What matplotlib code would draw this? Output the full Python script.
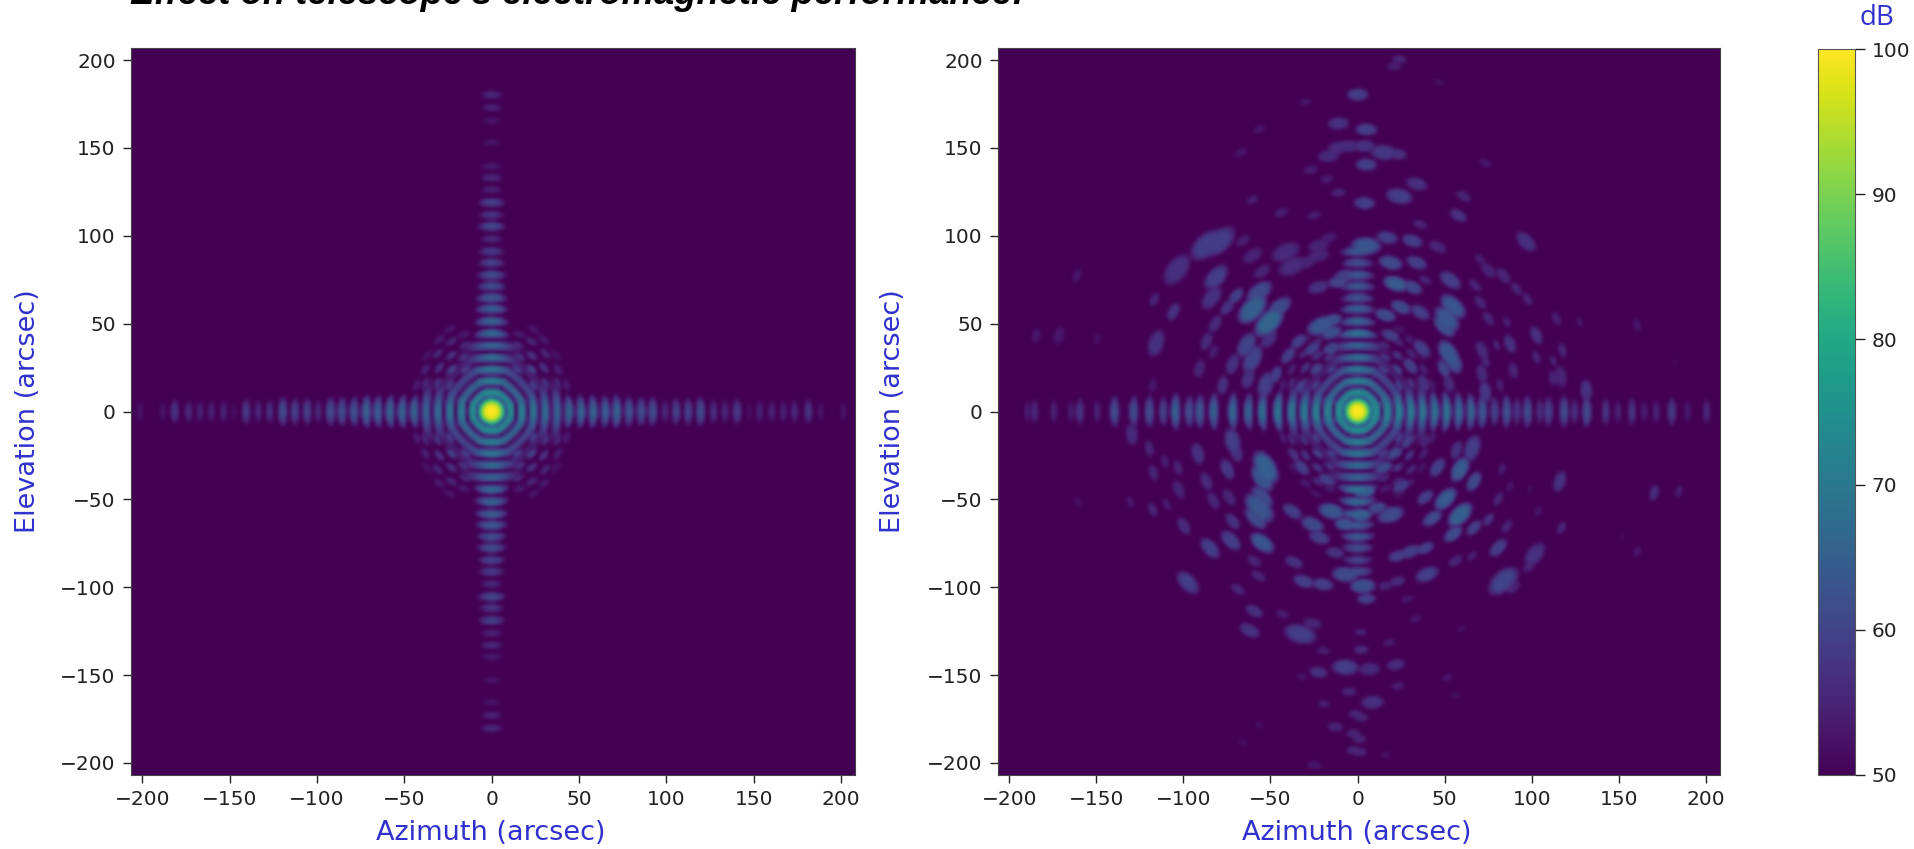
"""Beam pattern of the telescope, ideal (left) and with surface errors (right)."""
import numpy as np
import matplotlib
matplotlib.use('Agg')
import matplotlib.pyplot as plt

W, H = 1914, 849
BLUE = '#3030cc'
FLOOR = 50.0

ticks = [-200, -150, -100, -50, 0, 50, 100, 150, 200]
cbar_ticks = [50, 60, 70, 80, 90, 100]

# main lobe and the rings (arcsec, dB)
peak_db = 100
ring_r = [10.8, 17.4, 24.0, 30.8, 37.6]
ring_arm_db = [75, 72, 70, 68, 66]
ring_diag_db = [73, 66, 60, 54, 50]

# side lobes along the arms of the ideal pattern
arm_h_r = [44.5, 51.4, 58.4, 65.4, 72, 79, 86, 92.6, 99.6, 106, 113, 120, 127.5, 134,
           141, 148, 154, 161, 167.5, 174, 182, 189, 202]
arm_h_db = [66, 66, 66, 65, 66, 63, 62, 62, 56, 60, 60, 62, 57, 56,
            59, 52, 55, 55, 55, 56, 58, 53, 53]
arm_v_r = [44.6, 51.6, 58.7, 65, 71.6, 78, 85, 91.5, 98.5, 105.8, 112.3, 119.4, 126.7,
           133.5, 140, 153.6, 166, 173.5, 181]
arm_v_db = [67, 66, 65, 64, 62, 62, 60, 59, 56, 61, 58, 60, 55,
            56, 54, 53, 53, 55, 56]

# broken ring pieces in one quadrant, mirrored to the other three
dash_az = [24, 31, 38, 43, 15, 23, 30, 38, 16, 23, 31, 37, 15, 23, 30, 16, 24]
dash_el = [15, 16, 16, 15, 24, 24, 25, 24, 31, 32, 33, 32, 38, 40, 41, 44, 47]
dash_db = [60, 58, 56, 54, 60, 61, 58, 55, 58, 58, 56, 53, 56, 56, 54, 54, 53]

# arms of the pattern with surface errors
err_h_az = [10.4, 17.2, 24, 30.8, 37.6, 44.5, 51.4, 58.4, 65.4, 72, 79, 86, 92, 98, 105, 110,
            119, 125, 132, 143, 150, 158, 165, 172, 181, 190, 201,
            -10.4, -17.2, -24, -30.8, -38, -46, -55, -63, -72, -83, -91, -97, -105, -112,
            -120, -129, -140, -150, -160, -165, -175, -186, -190]
err_h_db = [75, 73, 72, 71, 70, 69, 69, 67, 66, 64, 60, 63, 58, 62, 57, 60,
            62, 57, 62, 58, 55, 58, 54, 55, 59, 54, 56,
            75, 73, 72, 71, 70, 70, 68, 66, 67, 66, 64, 62, 66, 60,
            62, 62, 62, 55, 58, 54, 55, 56, 54]
err_v_el = [44.6, 51.6, 58.7, 65, 71.6, 78, 85, 91.5,
            -44.6, -51.6, -58.7, -65, -71.6, -78, -85, -91.5]
err_v_db = [69, 66, 65, 63, 64, 64, 62, 64,
            69, 67, 66, 64, 64, 62, 60, 62]

# scattered lobes, upper left
tl_az = [-87, -80, -104, -81.5, -66, -60.5, -55, -41.4, -37.6, -30, -22.5, -22.5, -16.6,
         -56.7, -60.5, -51, -45, -70, -84, -75, -106, -117, -116, -172, -185, -161.6, -150,
         -82, -87, -83, -64, -60.5, -72, -91, -77.7, -63, -53, -34, -40, -47, -51,
         -21, -15, -15, -11, -22.5, -7, -16.6, -11, -5, -11, 0, -27, -17.6,
         -60.5, -67, -56.7, -30, -44, -25, -11, -118, -26, -15, -24, -33]
tl_el = [95, 97, 81, 76.7, 97.5, 89, 80, 91, 83, 85, 94.7, 89, 99.4,
         68, 58.6, 51, 59.6, 66, 65, 59.6, 57, 64, 39, 43.5, 43.5, 77.6, 41.5,
         50, 40, 34, 38, 30, 27, 24.5, 15, 19, 15, 40, 32, 21, 41.5,
         49, 52, 45, 74, 71, 77.6, 146, 150.7, 151.6, 164.5, 181, 138, 132.6,
         121, 148, 161, 177, 113.6, 112, 125, 15, 36, 36, 24.5, 14]
tl_db = [59, 59, 57, 59, 54, 55, 55, 56, 56, 55, 55, 55, 54,
         61, 65, 66, 61, 59, 57, 57, 57, 55, 57, 53, 53, 53, 52,
         56, 56, 54, 60, 60, 57, 55, 57, 57, 59, 59, 59, 59, 57,
         63, 62, 62, 60, 57, 59, 56, 56, 56, 57, 59, 54, 54,
         54, 53, 53, 53, 54, 54, 55, 53, 59, 60, 59, 59]
tl_size = [2.8, 2.8, 2.6, 2.2, 1.2, 1.6, 1.4, 2.2, 2.2, 1.6, 1.6, 1.6, 1.2,
           2.2, 2.6, 2.6, 2, 1.4, 2, 1.4, 1.4, 1.1, 2, 1.4, 1.1, 1.1, 0.9,
           1.4, 1.4, 1.1, 2, 2.2, 1.6, 1.4, 1.4, 1.6, 2, 1.4, 1.4, 1.4, 1.6,
           2.2, 1.6, 1.6, 1.6, 1.6, 1.6, 1.6, 1.6, 1.6, 1.6, 1.6, 1.1, 1,
           1, 1, 0.9, 0.9, 1.1, 1, 1.1, 1.1, 1.4, 1.4, 1.1, 1.1]

# upper right
tr_az = [24, 21, 5, 4, 15, 23, 5, 34, 24, 61, 58, 73.5, 47, 97, 46, 31.5, 17, 36, 5, 4,
         19, 34, 22, 31.5, 39, 53.4, 25, 36, 16, 51.5, 55, 50,
         70.6, 75.4, 84, 91.6, 98, 67.7, 70.6, 75.4, 86, 114.5, 128, 161, 183,
         103, 87.8, 80, 71.6, 73.5, 52.5, 55, 49.6, 118, 103, 112.6, 37, 30.5, 19,
         117, 112.6, 89.7, 71.6, 73.5, 131.7, 52.5, 38, 82]
tr_el = [201, 197, 161, 151.6, 148, 147, 141, 130, 123, 123, 112, 142, 188, 97, 94, 97.5, 99.4, 107, 94.7, 119,
         85, 85, 73, 71, 75, 75, 59.6, 56.7, 55, 53, 60, 49,
         87, 80.5, 77.6, 70, 64, 72, 62.4, 53, 51, 53, 51, 49.5, 28,
         43.5, 38.7, 38, 35, 29, 33, 29, 24.5, 35, 31, 29, 36, 26, 43.5,
         20, 19, 23.5, 21.6, 11, 12, 16, 16, 15]
tr_db = [55, 54, 59, 57, 58, 57, 59, 57, 59, 55, 57, 53, 52, 57, 55, 59, 59, 55, 63, 59,
         61, 59, 64, 60, 55, 59, 61, 59, 61, 63, 63, 62,
         54, 55, 55, 55, 55, 55, 55, 55, 54, 54, 53, 53, 51,
         57, 57, 55, 56, 55, 63, 62, 60, 55, 55, 55, 59, 59, 59,
         55, 55, 55, 56, 58, 57, 56, 57, 54]
tr_size = [1.1, 1.1, 1.6, 1.6, 2, 1.4, 1.6, 1.6, 2, 1.2, 1.4, 1, 0.8, 1.8, 1.4, 1.6, 1.6, 1.1, 2.2, 1.6,
           1.8, 1.6, 1.9, 1.6, 1, 1.8, 1.6, 1.6, 1.6, 2.2, 2.2, 2,
           1, 1.4, 1.4, 1.1, 1, 1.1, 1.2, 1.2, 0.9, 1.1, 0.8, 1, 0.7,
           1.4, 1.4, 0.8, 1.4, 1.1, 2.2, 2, 1.4, 1.1, 1, 0.8, 1.6, 1.4, 1.4,
           1.6, 1.1, 1.2, 1.4, 1.6, 1.6, 1.4, 1.4, 1]

# lower left
bl_az = [-130, -120, -92, -72, -70, -111, -117.6, -103.4, -53, -55, -75, -87, -103, -83, -74,
         -118, -110, -131, -161, -100, -72, -56.7, -55, -58.6, -85, -73, -55,
         -37.6, -26, -22, -15, -7, -13, -32, -17.6, -36.6,
         -36.6, -7, -31, -20, -59.5, -57, -97.7, -69, -59.5, -62.3, -43.3, -33, -26,
         -19.5, -22.5, -7, -32, -5, -19.5, -12.8, -56.7, -66, -25, -2.3, -2.3, -1.3]
bl_el = [-13, -21, -24, -17, -23, -28.5, -35, -32, -32, -38, -33, -40, -44.6, -51, -49,
         -56, -53, -51.6, -52, -65.5, -62.6, -55, -49, -60.7, -78, -73.6, -75,
         -57, -64.5, -72, -57, -64.5, -80.6, -32, -39, -24.7,
         -86, -93, -97, -98.7, -85.4, -94, -97.7, -101.5, -114, -125, -115.7, -127, -121,
         -136.6, -149, -146, -151.4, -160, -167, -180, -179, -189, -202, -184, -193.5, -172.7]
bl_db = [56, 55, 57, 59, 57, 54, 55, 55, 65, 63, 58, 56, 55, 55, 55,
         55, 54, 53, 52, 56, 57, 63, 61, 61, 59, 59, 63,
         59, 61, 59, 63, 63, 57, 59, 59, 57,
         57, 61, 59, 59, 55, 55, 59, 55, 57, 57, 54, 59, 55,
         54, 57, 59, 53, 55, 54, 55, 52, 52, 53, 55, 55, 55]
bl_size = [1.6, 1.2, 1.6, 2, 1.6, 1, 1.2, 1.1, 2.6, 2.2, 1.6, 1.4, 1.4, 1.4, 1.4,
           1.1, 0.9, 0.9, 0.8, 1.4, 1.4, 2.6, 2, 2, 1.8, 1.8, 2,
           1.6, 1.8, 1.6, 2, 1.6, 1.4, 1.4, 1.4, 1.1,
           1.4, 2, 1.6, 1.6, 1.2, 1.2, 2, 1.2, 1.4, 1.6, 1, 2.4, 1.4,
           1, 1.4, 2, 0.8, 1.1, 0.9, 1.2, 0.7, 0.7, 1.1, 1.1, 1.1, 1.1]

# lower right
br_az = [66, 57, 46, 59, 67, 50.6, 59, 43, 55, 67, 75.4, 25, 39, 19, 30.5, 39, 23, 40, 23, 16,
         56.3, 66, 81, 102, 99, 84, 89.7, 116.4, 170.8, 185, 117.4, 104, 161, 152.7,
         83, 87.8, 81, 86, 99, 28.6, 33.4, 18, 22, 6.7, 23.3, 8.6, 51.5, 56.3, 60,
         3, 5, 2, 2, 16, 2, 1, 1, 4, 2, 11.4, 15, 21, 28.6, 39]
br_el = [-21, -22, -32, -33, -40, -50, -59, -61, -70, -66.4, -61.7, -42.7, -49, -59, -80, -78, -82.5, -93, -97, -99.6,
         -85.4, -82.5, -77.8, -81.6, -88, -96.8, -100.6, -40, -46.5, -45.5, -66.4, -57, -80, -71.7,
         -33, -42.7, -50, -65.5, -44.6, -107, -118.6, -132, -144.6, -147, -156.5, -166, -151.8, -162, -124,
         -99.6, -107, -136, -126, -196, -174.6, -187, -194.5, -45.5, -59, -55, -32, -24, -17, -17]
br_db = [59, 57, 59, 64, 61, 64, 65, 61, 61, 59, 57, 59, 59, 61, 59, 59, 59, 59, 56, 55,
         55, 54, 59, 57, 55, 60, 55, 57, 56, 54, 55, 53, 53, 51,
         54, 53, 55, 55, 52, 53, 53, 54, 56, 56, 54, 57, 53, 52, 52,
         62, 59, 56, 55, 52, 55, 55, 55, 65, 65, 61, 61, 61, 59, 55]
br_size = [2, 1.4, 1.6, 2, 1.6, 2, 2.2, 1.6, 1.6, 1.4, 1.1, 1.4, 1.4, 2, 1.6, 1.4, 1.4, 1.8, 1.2, 1.1,
           1.2, 0.9, 1.6, 2, 1.2, 2.6, 1.2, 1.6, 1.2, 0.9, 1, 0.8, 0.9, 0.6,
           0.9, 0.8, 1.1, 1.1, 0.6, 0.9, 0.9, 0.9, 1.4, 1.6, 1, 1.7, 0.8, 0.8, 0.7,
           1.9, 1.4, 1.1, 0.9, 0.8, 1.1, 1.1, 1.1, 1.6, 1.6, 1.4, 1.4, 1.2, 1.2, 1]

# pixel boxes of the three axes in the reference
AX_LEFT = (131, 855, 48, 775)
AX_RIGHT = (998, 1720, 48, 775)
AX_CBAR = (1818, 1855, 49, 775)
EXTENT = (-206.4, 208, -206.9, 206.9)

grid_x = np.linspace(EXTENT[0], EXTENT[1], 300)
grid_y = np.linspace(EXTENT[2], EXTENT[3], 300)
X, Y = np.meshgrid(grid_x, grid_y)
R = np.hypot(X, Y)


def put(field, db, shape):
    """Keep the highest lobe at each cell; shape is 1 at the top, 0 at the rim."""
    return np.maximum(field, FLOOR + (db - FLOOR) * shape)


def add_core(field):
    field = put(field, peak_db, 1 - (R / 9.0) ** 3.2)
    octagon = np.maximum(np.maximum(np.abs(X), np.abs(Y)), (np.abs(X) + np.abs(Y)) / 1.38)
    round_oct = 0.55 * R + 0.45 * octagon
    mix = np.cos(2 * np.arctan2(Y, X)) ** 4
    for r, arm, diag in zip(ring_r, ring_arm_db, ring_diag_db, strict=True):
        field = put(field, diag + (arm - diag) * mix, 1 - ((round_oct - r) / 3.2) ** 2)
    return field


def add_arm_lobe(field, pos, db, horizontal, stretch=1.0):
    along, across = (X, Y) if horizontal else (Y, X)
    half = min(3.4, 2.0 + (db - FLOOR) * 0.12)
    wide = (5 + (db - FLOOR) * 0.35) * stretch
    shape = 1 - ((R - abs(pos)) / half) ** 2 - (across / wide) ** 2
    return put(field, db, np.where(along * pos > 0, shape, 0))


def add_dashes(field):
    for az, el, db in zip(dash_az, dash_el, dash_db, strict=True):
        for sx in (1, -1):
            for sy in (1, -1):
                r = np.hypot(az, el)
                ux, uy = sx * az / r, sy * el / r
                dx, dy = X - sx * az, Y - sy * el
                radial = dx * ux + dy * uy
                tangent = -dx * uy + dy * ux
                field = put(field, db, 1 - (radial / 2.4) ** 2 - (tangent / 4.6) ** 2)
    return field


def add_blobs(field, az, el, db, size):
    # lobes lie across the radius, so they are drawn longer along the ring than across it
    for a, e, d, s in zip(az, el, db, size, strict=True):
        radius = s * 3.2
        r = np.hypot(a, e)
        dx, dy = X - a, Y - e
        radial = (dx * a + dy * e) / r
        tangent = (-dx * e + dy * a) / r
        shape = 1.4 * (1 - (radial / (radius * 0.8)) ** 2 - (tangent / (radius * 1.4)) ** 2)
        field = put(field, d, np.minimum(shape, 1))
    return field


def ideal_pattern():
    field = np.full(X.shape, FLOOR)
    for r, db in zip(arm_h_r, arm_h_db, strict=True):
        field = add_arm_lobe(field, r, db, True)
        field = add_arm_lobe(field, -r, db, True)
    for r, db in zip(arm_v_r, arm_v_db, strict=True):
        field = add_arm_lobe(field, r, db, False)
        field = add_arm_lobe(field, -r, db, False)
    return add_core(add_dashes(field))


def error_pattern():
    field = np.full(X.shape, FLOOR)
    for az, db in zip(err_h_az, err_h_db, strict=True):
        field = add_arm_lobe(field, az, db, True, 1.1)
    for el, db in zip(err_v_el, err_v_db, strict=True):
        field = add_arm_lobe(field, el, db, False, 1.1)
    field = add_blobs(field, tl_az, tl_el, tl_db, tl_size)
    field = add_blobs(field, tr_az, tr_el, tr_db, tr_size)
    field = add_blobs(field, bl_az, bl_el, bl_db, bl_size)
    field = add_blobs(field, br_az, br_el, br_db, br_size)
    return add_core(add_dashes(field))


def px_axes(fig, box):
    x0, x1, y0, y1 = box
    return fig.add_axes([x0 / W, 1 - y1 / H, (x1 - x0) / W, (y1 - y0) / H])


def draw_panel(ax, field, label_x):
    im = ax.imshow(field, origin='lower', extent=EXTENT, cmap='viridis', vmin=50, vmax=100,
                   interpolation='bicubic', aspect='auto')
    ax.set_xticks(ticks)
    ax.set_yticks(ticks)
    ax.tick_params(labelsize=14.5, length=6, width=1, pad=5, colors='#222222')
    ax.set_xlabel('Azimuth (arcsec)', fontsize=19.5, color=BLUE)
    ax.set_ylabel('Elevation (arcsec)', fontsize=19.5, color=BLUE)
    ax.xaxis.set_label_coords(0.497, -0.08)
    ax.yaxis.set_label_coords(label_x, 0.5)
    ax.xaxis.label.set_va('center')
    ax.yaxis.label.set_va('center')
    for spine in ax.spines.values():
        spine.set_color('#444444')
    return im


fig = plt.figure(figsize=(W / 100, H / 100), dpi=100)
ax1 = px_axes(fig, AX_LEFT)
ax2 = px_axes(fig, AX_RIGHT)
cax = px_axes(fig, AX_CBAR)

im = draw_panel(ax1, ideal_pattern(), -0.142)
draw_panel(ax2, error_pattern(), -0.145)

cbar = fig.colorbar(im, cax=cax)
cbar.set_ticks(cbar_ticks)
cbar.ax.tick_params(labelsize=14.5, length=7, width=1, pad=5, colors='#222222')
cbar.outline.set_edgecolor('#555555')

fig.text(1877 / W, 1 - 18 / H, 'dB', color=BLUE, fontsize=20, family='Open Sans', ha='center', va='center')
fig.text(130 / W, 1 - 4.5 / H, "Effect on telescope's electromagnetic performance:", fontsize=26.2,
         family='Liberation Sans', fontweight='bold', fontstyle='italic', ha='left', va='baseline')

fig.savefig('out.png', dpi=100)
